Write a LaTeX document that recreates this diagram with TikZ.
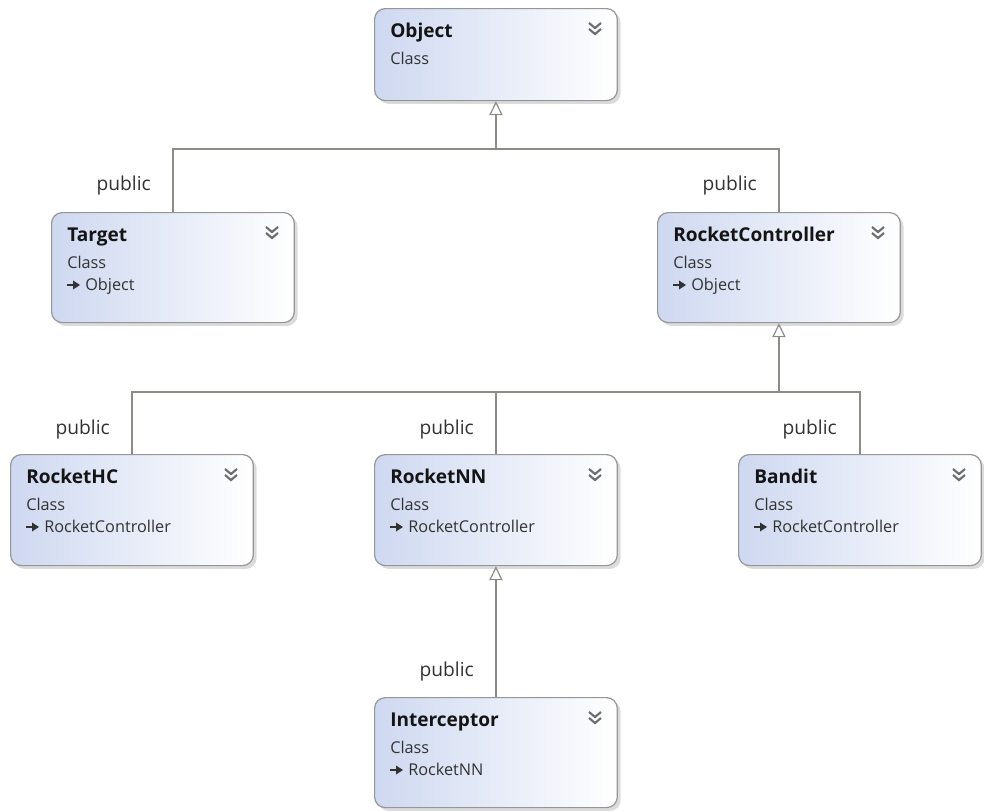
\documentclass[tikz,border=0pt]{standalone}
\usepackage{fontspec}
\setmainfont{Open Sans}
\usetikzlibrary{shadows,arrows.meta,calc}
\definecolor{boxleft}{RGB}{206,216,240}
\definecolor{boxborder}{RGB}{150,150,150}
\definecolor{connc}{RGB}{140,140,135}
\definecolor{chevc}{RGB}{110,110,110}
\definecolor{txt}{RGB}{20,20,20}
\definecolor{subtxt}{RGB}{50,50,50}
\tikzset{
  box/.style={draw=boxborder, line width=0.9pt, rounded corners=8pt,
    left color=boxleft, right color=white, minimum width=182pt,
    inner sep=0pt,
    drop shadow={shadow xshift=2.5pt, shadow yshift=-2.5pt, fill=black!35, opacity=0.4}},
  ttl/.style={anchor=base west, inner sep=0pt, text=txt, font=\fontsize{14.3}{16}\selectfont\bfseries},
  sub/.style={anchor=base west, inner sep=0pt, text=subtxt, font=\fontsize{12.2}{14}\selectfont},
  pub/.style={anchor=east, inner sep=0pt, text=subtxt, font=\fontsize{14.4}{16}\selectfont},
  conn/.style={draw=connc, line width=0.95pt},
  inh/.style={conn, -{Triangle[open, length=10.5pt, width=10pt, line width=0.9pt]}},
  chev/.style={draw=chevc, line width=1.6pt},
}
\newcommand\umlclass[5]{% name, x, y, height, title
  \node[box, minimum height=#4*0.75pt, anchor=north west] (#1) at (#2,#3) {};
  \node[ttl] (#1-title) at (#2+16,#3+29) {#5};
  \node[sub] (#1-kind) at (#2+16,#3+56) {Class};
  \draw[chev] (#2+215,#3+15) -- (#2+221,#3+20) -- (#2+227,#3+15);
  \draw[chev] (#2+215,#3+21) -- (#2+221,#3+26) -- (#2+227,#3+21);
}
\newcommand\umlparent[4]{% name, x, y, parent
  \draw[subtxt, line width=1.1pt] (#2+16,#3+73) -- (#2+24,#3+73);
  \fill[subtxt] (#2+22,#3+68.5) -- (#2+29,#3+73) -- (#2+22,#3+77.5) -- cycle;
  \node[sub] (#1-parent) at (#2+34,#3+78) {#4};
}
\begin{document}
\begin{tikzpicture}[x=0.75pt, y=-0.75pt]
\useasboundingbox (0,0) rectangle (984,810);

\umlclass{obj}{374}{8}{92}{Object}
\umlclass{tgt}{51}{212}{110}{Target}
\umlparent{tgt}{51}{212}{Object}
\umlclass{rc}{657}{212}{110}{RocketController}
\umlparent{rc}{657}{212}{Object}
\umlclass{hc}{10}{454}{111}{RocketHC}
\umlparent{hc}{10}{454}{RocketController}
\umlclass{nn}{374}{454}{111}{RocketNN}
\umlparent{nn}{374}{454}{RocketController}
\umlclass{bd}{738}{454}{111}{Bandit}
\umlparent{bd}{738}{454}{RocketController}
\umlclass{ic}{374}{697}{110}{Interceptor}
\umlparent{ic}{374}{697}{RocketNN}

% level 1
\coordinate (b1) at (0,149);
\draw[conn] (tgt.north) -- (tgt.north |- b1) -- (rc.north |- b1) -- (rc.north);
\draw[inh] (obj.south |- b1) -- (obj.south);
% level 2
\coordinate (b2) at (0,392);
\draw[conn] (hc.north) -- (hc.north |- b2) -- (bd.north |- b2) -- (bd.north);
\draw[conn] (nn.north) -- (nn.north |- b2);
\draw[inh] (rc.south |- b2) -- (rc.south);
% level 3
\draw[inh] (ic.north) -- (nn.south);

% labels
\node[pub] (p1) at (151,186) {public};
\node[pub] (p2) at (757,186) {public};
\node[pub] (p3) at (110,430) {public};
\node[pub] (p4) at (474,430) {public};
\node[pub] (p5) at (837,430) {public};
\node[pub] (p6) at (474,672) {public};
\end{tikzpicture}
\end{document}
